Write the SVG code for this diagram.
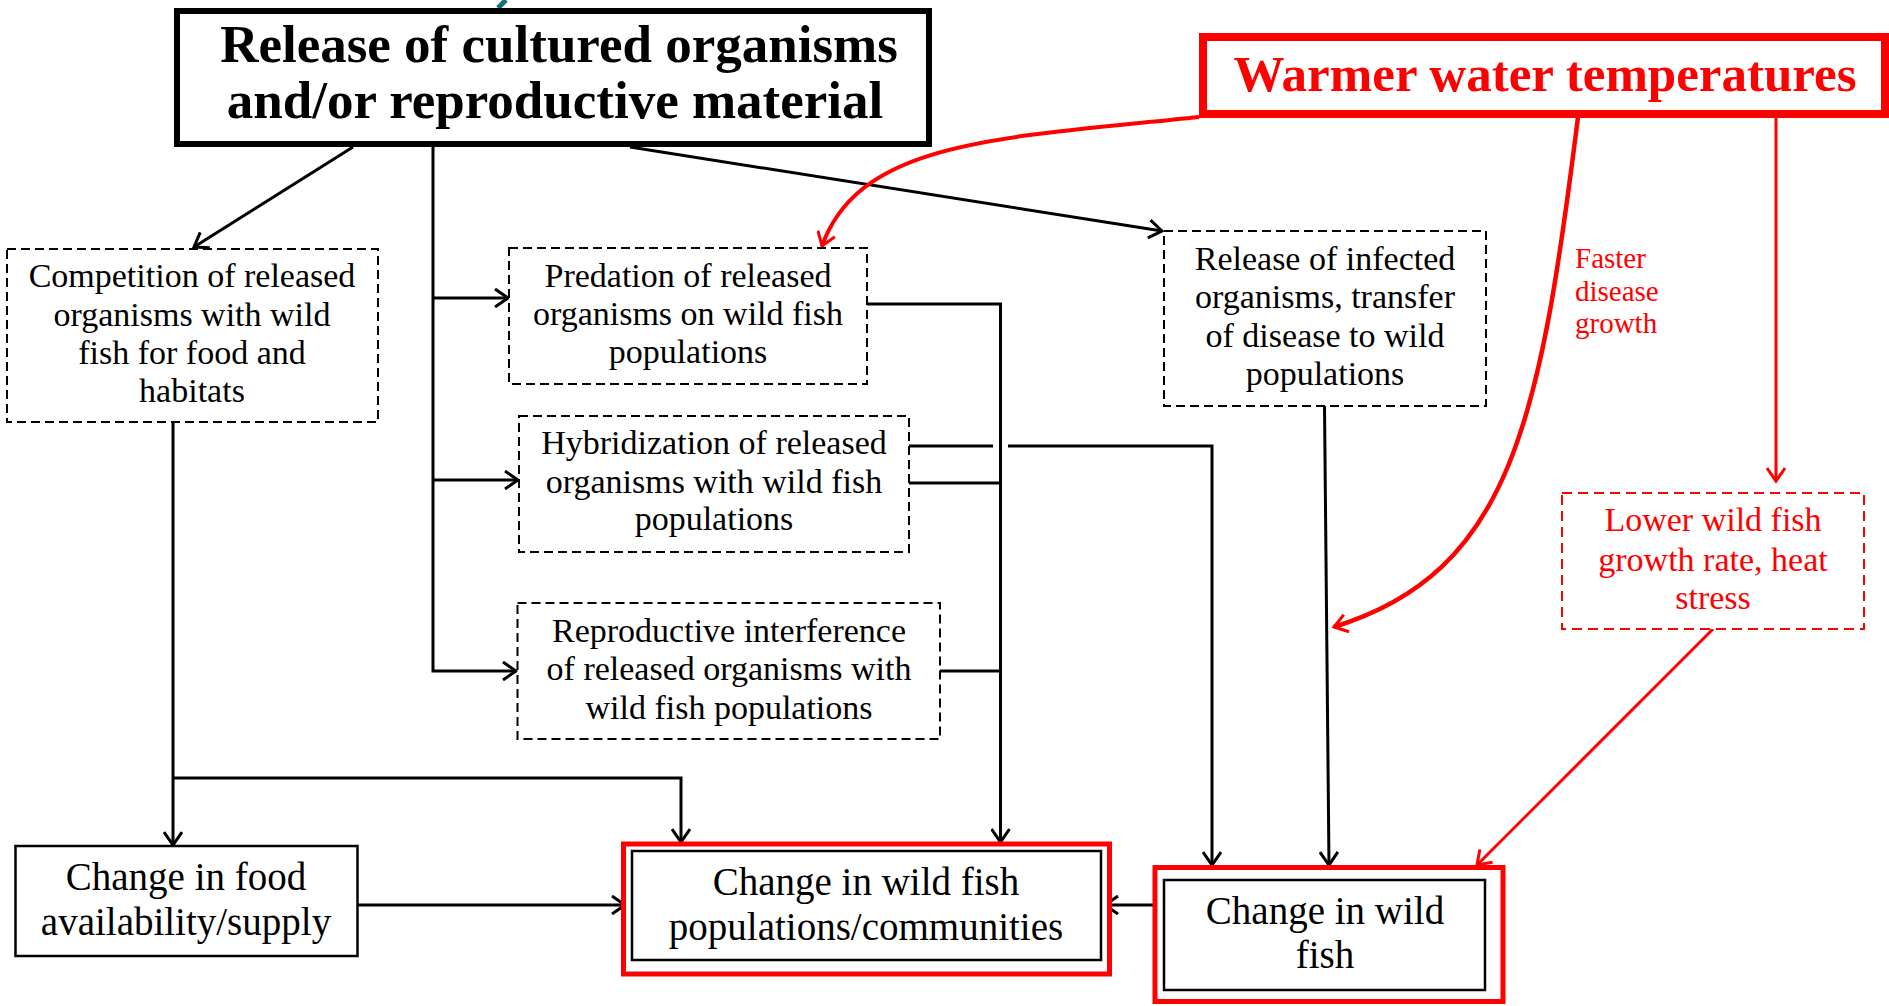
<svg xmlns="http://www.w3.org/2000/svg" width="1889" height="1006" viewBox="0 0 1889 1006">
<defs>
<style>
.t{font-family:"Liberation Serif","Times New Roman",serif;text-anchor:middle;fill:#000}
.s{font-size:34px}
.b{font-size:39px}
.h{font-size:51px;font-weight:bold}
.h2{font-size:53px;font-weight:bold}
.r{fill:#ff0000}
.dash{fill:#fff;stroke:#000;stroke-width:2;stroke-dasharray:9 5}
.rdash{fill:#fff;stroke:#ff0000;stroke-width:2;stroke-dasharray:10 6}
.solid{fill:#fff;stroke:#000;stroke-width:2.5}
.red{fill:#fff;stroke:#ff0000;stroke-width:5}
.c{fill:none;stroke:#000;stroke-width:3}
.rc{fill:none;stroke:#ff0000;stroke-width:3}
</style>
<marker id="a" markerUnits="userSpaceOnUse" markerWidth="20" markerHeight="20" viewBox="0 0 20 20" refX="17" refY="10" orient="auto">
<path d="M4,1 L17,10 L4,19" fill="none" stroke="#000" stroke-width="3"/>
</marker>
<marker id="ar" markerUnits="userSpaceOnUse" markerWidth="20" markerHeight="20" viewBox="0 0 20 20" refX="17" refY="10" orient="auto">
<path d="M4,1 L17,10 L4,19" fill="none" stroke="#ff0000" stroke-width="3"/>
</marker>
</defs>
<rect width="1889" height="1006" fill="#fff"/>
<path d="M498,8 L506,0" stroke="#17707f" stroke-width="5" fill="none"/>

<g id="connectors">
<line class="c" x1="353" y1="147" x2="194" y2="247" marker-end="url(#a)"/>
<path class="c" d="M433,147 V671 H516" marker-end="url(#a)"/>
<line class="c" x1="433" y1="298" x2="508" y2="298" marker-end="url(#a)"/>
<line class="c" x1="433" y1="480" x2="518" y2="480" marker-end="url(#a)"/>
<line class="c" x1="630" y1="147" x2="1162" y2="231" marker-end="url(#a)"/>
<line class="c" x1="173" y1="422" x2="173" y2="845" marker-end="url(#a)"/>
<path class="c" d="M173,778 H681 V842" marker-end="url(#a)"/>
<path class="c" d="M867,304 H1000.5 V842" marker-end="url(#a)"/>
<path class="c" d="M909,446 H993"/>
<path class="c" d="M1008,446 H1212 V865" marker-end="url(#a)"/>
<path class="c" d="M909,483 H1000"/>
<path class="c" d="M940,671 H1000"/>
<line class="c" x1="1324.5" y1="406" x2="1329" y2="865" marker-end="url(#a)"/>
<line class="c" x1="357" y1="905" x2="625" y2="905" marker-end="url(#a)"/>
<line class="c" x1="1164" y1="905" x2="1105" y2="905" marker-end="url(#a)"/>
<path class="rc" style="stroke-width:4" d="M1199,117 C1000,138 860,140 822,246" marker-end="url(#ar)"/>
<path class="rc" style="stroke-width:4.5" d="M1578,117 C1540,420 1512,572 1334,627" marker-end="url(#ar)"/>
<line class="rc" x1="1776" y1="117" x2="1776" y2="481" marker-end="url(#ar)"/>
<line class="rc" x1="1713" y1="629" x2="1477" y2="865" marker-end="url(#ar)"/>
</g>

<g id="release">
<rect x="177" y="11" width="752" height="133" fill="#fff" stroke="#000" stroke-width="6"/>
<text class="t h2" x="559" y="62">Release of cultured organisms</text>
<text class="t h2" x="555" y="118">and/or reproductive material</text>
</g>

<g id="warmer">
<rect x="1203" y="37" width="682" height="77" fill="#fff" stroke="#ff0000" stroke-width="8"/>
<text class="t h r" x="1545" y="91">Warmer water temperatures</text>
</g>

<g id="competition">
<rect class="dash" x="7" y="249" width="371" height="173"/>
<text class="t s" x="192" y="287">Competition of released</text>
<text class="t s" x="192" y="326">organisms with wild</text>
<text class="t s" x="192" y="364">fish for food and</text>
<text class="t s" x="192" y="402">habitats</text>
</g>

<g id="predation">
<rect class="dash" x="509" y="248" width="358" height="136"/>
<text class="t s" x="688" y="287">Predation of released</text>
<text class="t s" x="688" y="325">organisms on wild fish</text>
<text class="t s" x="688" y="363">populations</text>
</g>

<g id="hybridization">
<rect class="dash" x="519" y="416" width="390" height="136"/>
<text class="t s" x="714" y="454">Hybridization of released</text>
<text class="t s" x="714" y="493">organisms with wild fish</text>
<text class="t s" x="714" y="530">populations</text>
</g>

<g id="reproductive">
<rect class="dash" x="517.5" y="603" width="422.5" height="136"/>
<text class="t s" x="729" y="642">Reproductive interference</text>
<text class="t s" x="729" y="680">of released organisms with</text>
<text class="t s" x="729" y="719">wild fish populations</text>
</g>

<g id="infected">
<rect class="dash" x="1164" y="231" width="322" height="175"/>
<text class="t s" x="1325" y="270">Release of infected</text>
<text class="t s" x="1325" y="308">organisms, transfer</text>
<text class="t s" x="1325" y="347">of disease to wild</text>
<text class="t s" x="1325" y="385">populations</text>
</g>

<g id="faster-label">
<text class="t r" style="font-size:29px;text-anchor:start" x="1575" y="268">Faster</text>
<text class="t r" style="font-size:29px;text-anchor:start" x="1575" y="301">disease</text>
<text class="t r" style="font-size:29px;text-anchor:start" x="1575" y="333">growth</text>
</g>

<g id="lower">
<rect class="rdash" x="1562" y="493" width="302" height="136"/>
<text class="t s r" x="1713" y="531">Lower wild fish</text>
<text class="t s r" x="1713" y="571">growth rate, heat</text>
<text class="t s r" x="1713" y="609">stress</text>
</g>

<g id="food">
<rect class="solid" x="15.5" y="846" width="342" height="110"/>
<text class="t b" x="186" y="890">Change in food</text>
<text class="t b" x="186" y="935">availability/supply</text>
</g>

<g id="populations">
<rect class="red" x="623.5" y="844" width="486" height="130"/>
<rect class="solid" x="632" y="851" width="469" height="109"/>
<text class="t b" x="866" y="895">Change in wild fish</text>
<text class="t b" x="866" y="940">populations/communities</text>
</g>

<g id="wildfish">
<rect class="red" x="1155" y="867.5" width="348" height="134"/>
<rect class="solid" x="1164" y="880" width="321" height="110"/>
<text class="t b" x="1325" y="924">Change in wild</text>
<text class="t b" x="1325" y="968">fish</text>
</g>
</svg>
